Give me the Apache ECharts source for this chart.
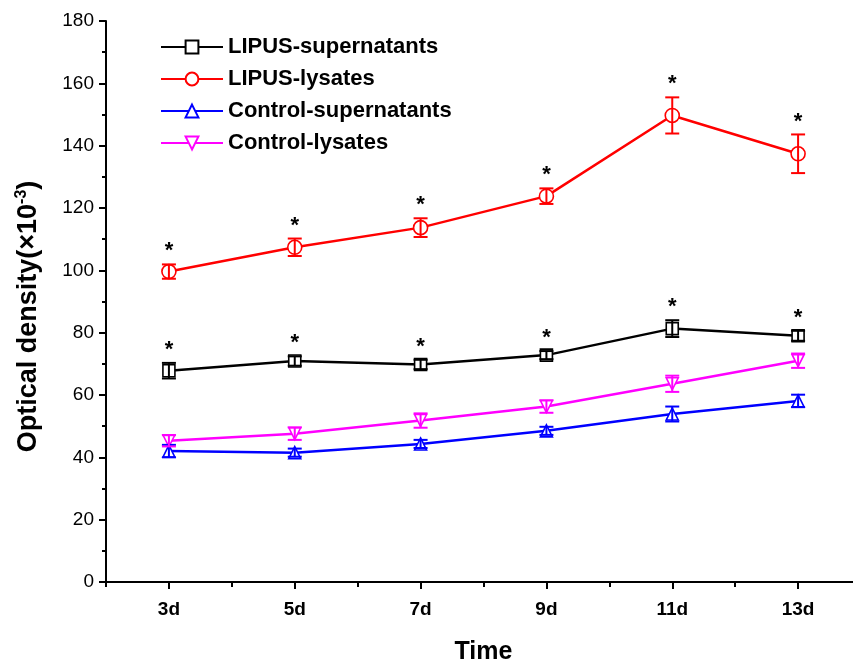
<!DOCTYPE html>
<html><head><meta charset="utf-8">
<script src="https://cdn.jsdelivr.net/npm/echarts@6/dist/echarts.min.js"></script>
<style>html,body{margin:0;padding:0;background:#fff}#c{width:853px;height:663px}</style>
</head><body><div id="c"></div>
<script>
const days = [3, 5, 7, 9, 11, 13];
const minorDays = [2, 4, 6, 8, 10, 12];
const yTicks = [0, 20, 40, 60, 80, 100, 120, 140, 160, 180];
const seriesNames = ['LIPUS-supernatants', 'LIPUS-lysates', 'Control-supernatants', 'Control-lysates'];
const lipusSup = [67.8, 70.9, 69.8, 72.8, 81.3, 79.0];
const lipusSupErr = [2.5, 1.5, 1.5, 1.3, 2.7, 1.6];
const lipusLys = [99.6, 107.4, 113.7, 123.8, 149.7, 137.4];
const lipusLysErr = [2.3, 2.8, 3.0, 2.5, 5.8, 6.2];
const ctrlSup = [42.0, 41.5, 44.3, 48.5, 53.9, 58.1];
const ctrlSupErr = [2.0, 1.3, 1.3, 1.3, 2.4, 2.0];
const ctrlLys = [45.3, 47.6, 51.8, 56.3, 63.6, 71.0];
const ctrlLysErr = [1.8, 2.0, 2.3, 2.0, 2.6, 2.3];
const starLipusSup = [true, true, true, true, true, true];
const starLipusLys = [true, true, true, true, true, true];

const colors = ['#000000', '#ff0000', '#0000ff', '#ff00ff'];
const symbols = ['rect', 'circle', 'triangle', 'triangle'];
const rotates = [0, 0, 0, 180];
const vals = [lipusSup, lipusLys, ctrlSup, ctrlLys];
const errs = [lipusSupErr, lipusLysErr, ctrlSupErr, ctrlLysErr];
const stars = [starLipusSup, starLipusLys, null, null];

const series = [];
seriesNames.forEach((name, i) => {
  series.push({
    name: name, type: 'line', xAxisIndex: 0, yAxisIndex: 0,
    data: days.map((d, k) => [d, vals[i][k]]),
    symbol: symbols[i], symbolRotate: rotates[i],
    symbolSize: i === 1 ? 14 : 12,
    showAllSymbol: true,
    lineStyle: {color: colors[i], width: 2.5},
    itemStyle: {color: '#fff', borderColor: colors[i], borderWidth: 1.6},
    emphasis: {disabled: true}, z: 3
  });
});
seriesNames.forEach((name, i) => {
  series.push({
    type: 'custom', xAxisIndex: 0, yAxisIndex: 0, z: 5,
    data: days.map((d, k) => [d, vals[i][k], errs[i][k], stars[i] && stars[i][k] ? 1 : 0]),
    renderItem: function (params, api) {
      const x = api.value(0), y = api.value(1), e = api.value(2);
      const top = api.coord([x, y + e]);
      const bot = api.coord([x, y - e]);
      const hw = 7;
      const st = {stroke: colors[i], lineWidth: 2};
      const children = [
        {type: 'line', shape: {x1: top[0], y1: top[1], x2: bot[0], y2: bot[1]}, style: st},
        {type: 'line', shape: {x1: top[0] - hw, y1: top[1], x2: top[0] + hw, y2: top[1]}, style: st},
        {type: 'line', shape: {x1: bot[0] - hw, y1: bot[1], x2: bot[0] + hw, y2: bot[1]}, style: st}
      ];
      if (api.value(3)) {
        children.push({type: 'text', x: top[0], y: top[1] - 2,
          style: {text: '*', fill: '#000', font: 'bold 22px "Liberation Sans", Arial', align: 'center', verticalAlign: 'bottom'}});
      }
      return {type: 'group', children: children};
    }
  });
});

const chart = echarts.init(document.getElementById('c'), null, {renderer: 'canvas'});
chart.setOption({
  animation: false,
  backgroundColor: '#fff',
  textStyle: {fontFamily: '"Liberation Sans", Arial, sans-serif'},
  grid: {left: 106, top: 21, width: 755, height: 561, containLabel: false, outerBoundsMode: 'none'},
  legend: {
    data: seriesNames, left: 155, top: 31, orient: 'vertical',
    itemWidth: 62, itemHeight: 16, itemGap: 10, itemTextGap: 6,
    textStyle: {fontSize: 22, fontWeight: 'bold', color: '#000'},
    selectedMode: false
  },
  xAxis: [{
    type: 'value', min: 2, max: 14, position: 'bottom',
    name: 'Time', nameLocation: 'middle', nameGap: 58,
    nameTextStyle: {fontSize: 25, fontWeight: 'bold', color: '#000'},
    axisLine: {show: true, onZero: false, lineStyle: {color: '#000', width: 2}},
    axisTick: {show: true, customValues: days, length: 7, lineStyle: {color: '#000', width: 2}},
    axisLabel: {customValues: days, formatter: v => v + 'd', fontSize: 19, fontWeight: 'bold', color: '#000', margin: 18},
    splitLine: {show: false}
  }, {
    type: 'value', min: 2, max: 14, position: 'bottom', gridIndex: 0,
    axisLine: {show: false},
    axisTick: {show: true, customValues: minorDays, length: 5, lineStyle: {color: '#000', width: 2}},
    axisLabel: {show: false}, splitLine: {show: false}
  }],
  yAxis: {
    type: 'value', min: 0, max: 180, interval: 20,
    name: '{a|Optical density(×10}{s|-3}{a|)}', nameLocation: 'middle', nameGap: 63, nameRotate: 90,
    nameTextStyle: {padding: [0, 30, 0, 0], rich: {
      a: {fontSize: 27, fontWeight: 'bold', color: '#000', fontFamily: '"Liberation Sans", Arial'},
      s: {fontSize: 16, fontWeight: 'bold', color: '#000', verticalAlign: 'top', padding: [0, 0, 13, 0], fontFamily: '"Liberation Sans", Arial'}
    }},
    axisLine: {show: true, onZero: false, lineStyle: {color: '#000', width: 2}},
    axisTick: {show: true, length: 7, lineStyle: {color: '#000', width: 2}},
    minorTick: {show: true, splitNumber: 2, length: 4, lineStyle: {color: '#000', width: 2}},
    axisLabel: {fontSize: 19, color: '#000', margin: 12, customValues: yTicks},
    splitLine: {show: false}, minorSplitLine: {show: false}
  },
  series: series
});
</script></body></html>
